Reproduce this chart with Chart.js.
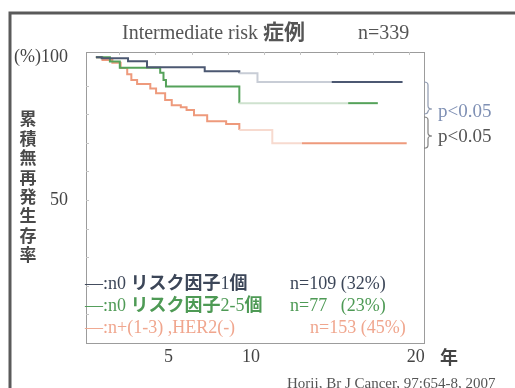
<!DOCTYPE html>
<html>
<head>
<meta charset="utf-8">
<script src="https://cdn.jsdelivr.net/npm/chart.js@4.4.1/dist/chart.umd.min.js"></script>
<style>
  html, body { margin: 0; padding: 0; background: #fff; }
  #wrap { width: 515px; height: 388px; position: relative; }
</style>
</head>
<body>
<div id="wrap"><canvas id="chart" width="515" height="388"></canvas></div>
<script>
// --- data ---
const titleText = 'Intermediate risk 症例';
const titleN = 'n=339';
const yTitle = '累積無再発生存率';
const yTickValues = [50, 100];
const xTickValues = [5, 10, 20];
const xUnit = '年';
const citation = 'Horii, Br J Cancer, 97:654-8, 2007';
const seriesLabels = ['—:n0 リスク因子1個', '—:n0 リスク因子2-5個', '—:n+(1-3) ,HER2(-)'];
const seriesCounts = ['n=109 (32%)', 'n=77   (23%)', 'n=153 (45%)'];
const pLabels = ['p<0.05', 'p<0.05'];

// years / survival (%) - each point is where the curve steps to that value
const n0r1Years = [0.6, 0.95, 2.55, 3.7, 7.2, 9.3, 10.4, 14.9, 19.2];
const n0r1Surv  = [100, 99.6, 98.6, 96.5, 95.1, 94.4, 91.3, 91.3, 91.3];
const n0r25Years = [0.6, 1.45, 2.05, 4.5, 4.7, 4.85, 9.3, 15.9, 17.7];
const n0r25Surv  = [100, 98.5, 96.3, 94.5, 92, 89.7, 83.9, 83.9, 83.9];
const npYears = [0.6, 1.0, 1.6, 2.1, 2.5, 2.75, 3.1, 3.9, 4.25, 4.8, 5.2, 5.75, 6.1, 6.55, 7.35, 8.5, 9.3, 11.3, 13.1, 19.45];
const npSurv  = [100, 99, 98, 96.2, 94, 92, 90.6, 89, 87.4, 85, 83.2, 82.5, 81.5, 79.7, 77.6, 76.6, 74.5, 69.9, 69.9, 69.9];

// --- styles ---
const lineColors = ['#4c5872', '#55a25a', '#ee9a7c'];
const fadedColors = ['#c8cdd6', '#cfe2cf', '#f7dacf'];
const fadeWindows = [[9.25, 14.9], [9.25, 15.9], [9.2, 13.1]];
const textColors = ['#3c4658', '#4e9a55', '#f0a68e'];
const countX = [290, 290, 310];
const SERIF = '"Liberation Serif", "DejaVu Serif", serif';
const GOTHIC = '"Noto Sans CJK JP", "Noto Sans", sans-serif';

const toPoints = (xs, ys) => xs.map((x, i) => ({ x, y: ys[i] }));
const seriesData = [toPoints(n0r1Years, n0r1Surv), toPoints(n0r25Years, n0r25Surv), toPoints(npYears, npSurv)];

function drawMixed(ctx, str, x, y, color, size, cjkSize) {
  const parts = str.match(/[\u3000-\u9fff]+|[^\u3000-\u9fff]+/g) || [];
  ctx.fillStyle = color;
  parts.forEach(p => {
    const cjk = /[\u3000-\u9fff]/.test(p);
    ctx.font = cjk ? `bold ${cjkSize}px ${GOTHIC}` : `${size}px ${SERIF}`;
    ctx.fillText(p, x, y);
    x += ctx.measureText(p).width;
  });
  return x;
}

function brace(ctx, x, y1, ym, y2, w) {
  const h = w / 2;
  ctx.beginPath();
  ctx.moveTo(x, y1);
  ctx.quadraticCurveTo(x + h, y1, x + h, y1 + 3);
  ctx.lineTo(x + h, ym - 3);
  ctx.quadraticCurveTo(x + h, ym, x + w, ym);
  ctx.quadraticCurveTo(x + h, ym, x + h, ym + 3);
  ctx.lineTo(x + h, y2 - 3);
  ctx.quadraticCurveTo(x + h, y2, x, y2);
  ctx.stroke();
}

const decorations = {
  id: 'decorations',
  afterDraw(chart) {
    const { ctx, chartArea: a, scales: { x, y } } = chart;
    ctx.save();
    ctx.textBaseline = 'alphabetic';
    ctx.textAlign = 'left';

    // slide frame
    ctx.strokeStyle = '#5a5a5a';
    ctx.lineWidth = 3;
    ctx.beginPath();
    ctx.moveTo(10, 390); ctx.lineTo(10, 13); ctx.lineTo(515, 13);
    ctx.stroke();

    // plot box + little inner ticks
    ctx.strokeStyle = '#9c9c9c';
    ctx.lineWidth = 1;
    ctx.strokeRect(a.left + 0.5, a.top + 0.5, a.right - a.left, a.bottom - a.top);
    ctx.strokeStyle = '#c4c4c4';
    ctx.beginPath();
    for (let v = 10; v < 100; v += 10) {
      const py = Math.round(y.getPixelForValue(v)) + 0.5;
      ctx.moveTo(a.left, py); ctx.lineTo(a.left + 3, py);
    }
    for (let v = 2; v < 20; v += 2.2) {
      const px = Math.round(x.getPixelForValue(v)) + 0.5;
      ctx.moveTo(px, a.top); ctx.lineTo(px, a.top + 3);
    }
    ctx.stroke();

    // title
    drawMixed(ctx, titleText, 122, 39, '#555', 20, 21);
    drawMixed(ctx, titleN, 358, 39, '#555', 20, 21);

    // vertical y title
    ctx.font = `bold 17px ${GOTHIC}`;
    ctx.fillStyle = '#4a4a4a';
    ctx.textAlign = 'center';
    ctx.textBaseline = 'middle';
    [...yTitle].forEach((ch, i) => ctx.fillText(ch, 28, 119 + i * 19.4));

    // x unit
    ctx.font = `bold 18px ${GOTHIC}`;
    ctx.fillStyle = '#444';
    ctx.fillText(xUnit, 449, 357);

    // citation
    ctx.textAlign = 'left';
    ctx.textBaseline = 'alphabetic';
    ctx.font = `15px ${SERIF}`;
    ctx.fillStyle = '#555';
    ctx.fillText(citation, 287, 388);

    // legend inside plot
    seriesLabels.forEach((lab, i) => {
      const by = 289 + i * 22;
      drawMixed(ctx, lab, 85, by, textColors[i], 18, 18);
      drawMixed(ctx, seriesCounts[i], countX[i], by, textColors[i], 18, 18);
    });

    // significance braces
    const yb = y.getPixelForValue(n0r1Surv[n0r1Surv.length - 1]);
    const yo = y.getPixelForValue(npSurv[npSurv.length - 1]);
    ctx.lineWidth = 1.2;
    ctx.strokeStyle = '#8f9ab0';
    brace(ctx, 424, yb, 109, 114, 8);
    ctx.strokeStyle = '#808080';
    brace(ctx, 424, 117, 136, yo + 5, 8);
    ctx.font = `19px ${SERIF}`;
    ctx.fillStyle = '#7f90b4';
    ctx.fillText(pLabels[0], 438, 117);
    ctx.fillStyle = '#555';
    ctx.fillText(pLabels[1], 438, 142);
    ctx.restore();
  }
};

new Chart(document.getElementById('chart'), {
  type: 'line',
  data: {
    datasets: seriesData.map((d, i) => ({
      label: seriesLabels[i],
      data: d,
      stepped: true,
      borderColor: lineColors[i],
      borderWidth: 2,
      pointRadius: 0,
      fill: false,
      segment: {
        borderColor: c => (c.p0.parsed.x >= fadeWindows[i][0] && c.p1.parsed.x <= fadeWindows[i][1]) ? fadedColors[i] : lineColors[i]
      }
    }))
  },
  options: {
    responsive: false,
    devicePixelRatio: 1,
    animation: false,
    layout: { padding: { top: 52, right: 91, bottom: 0, left: 0 } },
    plugins: { legend: { display: false }, tooltip: { enabled: false } },
    scales: {
      x: {
        type: 'linear', min: 0, max: 20.5,
        grid: { display: false }, border: { display: false },
        afterBuildTicks: s => { s.ticks = xTickValues.map(v => ({ value: v })); },
        afterFit: s => { s.height = 45; },
        ticks: { font: { family: SERIF, size: 18 }, color: '#444', padding: -5, maxRotation: 0, autoSkip: false }
      },
      y: {
        min: 0, max: 101.8,
        grid: { display: false }, border: { display: false },
        afterBuildTicks: s => { s.ticks = yTickValues.map(v => ({ value: v })); },
        afterFit: s => { s.width = 86; },
        ticks: {
          font: { family: SERIF, size: 18 }, color: '#444', padding: 10,
          callback: v => v === 100 ? '(%)100' : String(v)
        }
      }
    }
  },
  plugins: [decorations]
});
</script>
</body>
</html>
